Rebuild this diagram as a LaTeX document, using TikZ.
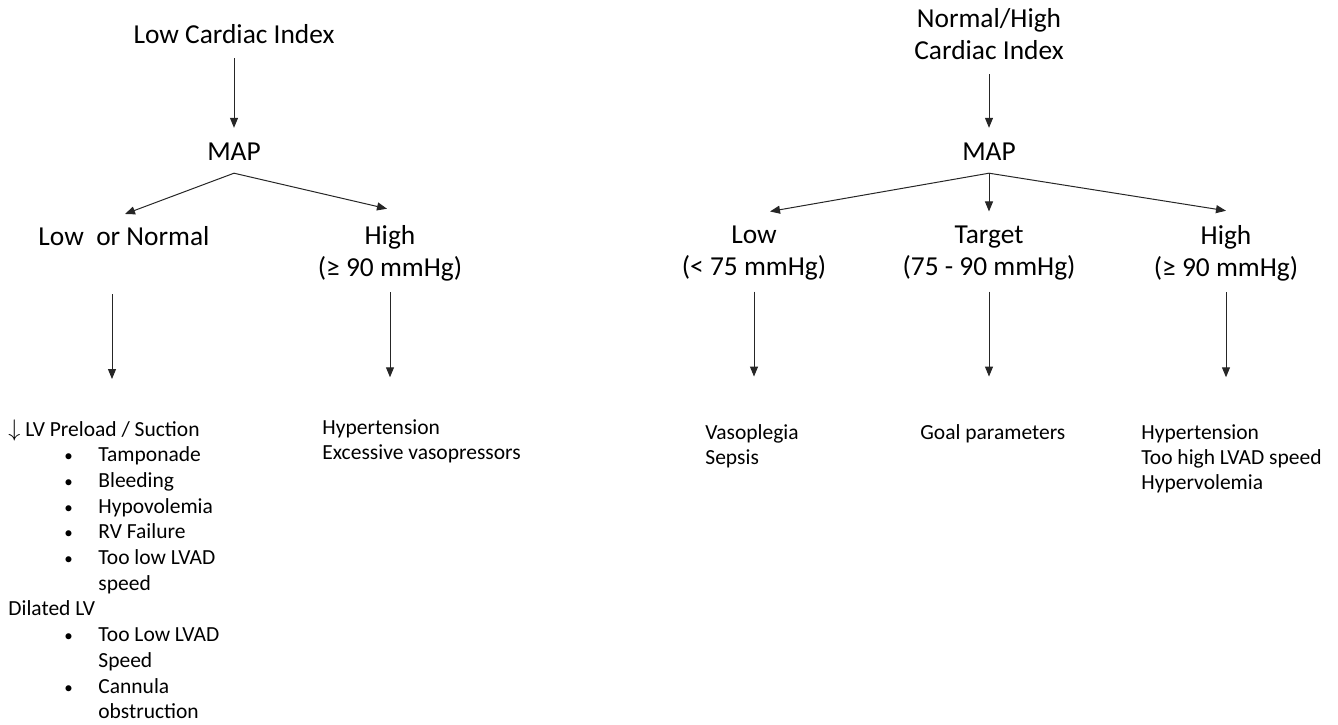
\documentclass[tikz,border=0pt]{standalone}
\usepackage{fontspec}
\setmainfont{Carlito}
\usetikzlibrary{arrows.meta,calc}

\newcommand{\bul}{\makebox[45pt][l]{\hspace*{28pt}{\fontsize{8.5}{8.5}\selectfont\textbullet}}}
\newcommand{\ind}{\hspace*{45pt}}

\begin{document}
\begin{tikzpicture}[x=0.5pt, y=-0.5pt,
    lbl/.style = {inner sep=0pt, align=center, font=\fontsize{13.7}{16}\selectfont},
    txt/.style = {inner sep=0pt, align=left, anchor=north west, font=\fontsize{10.75}{12.6}\selectfont},
    arr/.style = {-{Triangle[length=5pt,width=4pt]}, line width=0.5pt, draw=black!85}]
    \useasboundingbox (0,0) rectangle (1338,724);

    % left tree
    \node[lbl] (lci) at (234,34) {Low Cardiac Index};
    \node[lbl] (map1) at (234,152) {MAP};
    \node[lbl] (lon) at (124,236) {Low\ \ or Normal};
    \node[lbl] (hi1) at (390,253) {High\\(≥ 90 mmHg)};

    \node[txt, font=\fontsize{10.75}{12.85}\selectfont] (lst1) at (8,419) {{\large$\downarrow$} LV Preload / Suction\\
        \bul Tamponade\\
        \bul Bleeding\\
        \bul Hypovolemia\\
        \bul RV Failure\\
        \bul Too low LVAD\\
        \ind speed\\
        Dilated LV\\
        \bul Too Low LVAD\\
        \ind Speed\\
        \bul Cannula\\
        \ind obstruction};
    \node[txt] (lst2) at (322,419) {Hypertension\\Excessive vasopressors};

    % right tree
    \node[lbl] (nhci) at (989,34) {Normal/High\\Cardiac Index};
    \node[lbl] (map2) at (989,152) {MAP};
    \node[lbl] (lo2) at (754,253) {Low\\(< 75 mmHg)};
    \node[lbl] (tg2) at (989,253) {Target\\(75 - 90 mmHg)};
    \node[lbl] (hi2) at (1226,253) {High\\(≥ 90 mmHg)};

    \node[txt] (lst3) at (705,424) {Vasoplegia\\Sepsis};
    \node[txt] (lst4) at (920,424) {Goal parameters};
    \node[txt] (lst5) at (1141,424) {Hypertension\\Too high LVAD speed\\Hypervolemia};

    % connectors
    \draw[arr, shorten <=7pt, shorten >=7.5pt] (lci) -- (map1);
    \draw[arr, shorten <=7pt, shorten >=7.5pt] (nhci) -- (map2);

    \draw[arr] ($(map1.south)+(0,12)$) -- ($(lon.north)+(1,-12)$);
    \draw[arr] ($(map1.south)+(0,12)$) -- ($(hi1.north)+(-3,-16)$);
    \draw[arr] ($(map2.south)+(0,12)$) -- ($(lo2.north)+(16,-14)$);
    \draw[arr] ($(map2.south)+(0,12)$) -- ($(tg2.north)+(0,-14)$);
    \draw[arr] ($(map2.south)+(0,12)$) -- ($(hi2.north)+(0,-14)$);

    \draw[arr] ($(lon.south)+(-12,48)$) -- ++(0,85);
    \draw[arr] ($(hi1.south)+(0,11)$) -- ++(0,85);
    \draw[arr] ($(lo2.south)+(0,11)$) -- ++(0,85);
    \draw[arr] ($(tg2.south)+(0,11)$) -- ++(0,85);
    \draw[arr] ($(hi2.south)+(0,11)$) -- ++(0,85);
\end{tikzpicture}
\end{document}
